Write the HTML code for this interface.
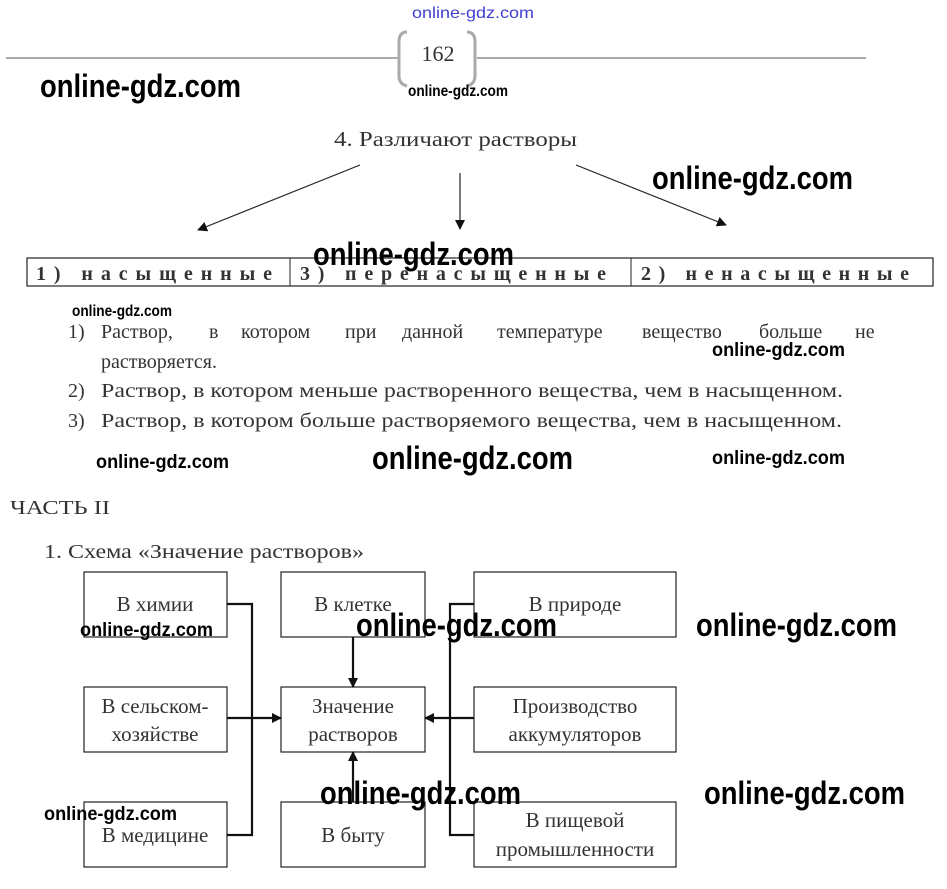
<!DOCTYPE html>
<html><head><meta charset="utf-8"><style>
html,body{margin:0;padding:0;background:#fff;}
svg{display:block}
.s{font-family:"Liberation Serif",serif;fill:#333;}
.w{font-family:"Liberation Sans",sans-serif;font-weight:bold;fill:#000;}
</style></head><body>
<svg width="947" height="889" viewBox="0 0 947 889" xmlns="http://www.w3.org/2000/svg">
<defs><marker id="a" markerWidth="10" markerHeight="10" refX="9" refY="5" orient="auto" markerUnits="userSpaceOnUse"><path d="M0,0 L10,5 L0,10 z" fill="#111"/></marker></defs>
<text x="412" y="18" font-family="Liberation Sans,sans-serif" font-size="16" fill="#4040d0" textLength="122" lengthAdjust="spacingAndGlyphs">online-gdz.com</text>
<line x1="6" y1="58" x2="400" y2="58" stroke="#aaa" stroke-width="2"/>
<line x1="477" y1="58" x2="866" y2="58" stroke="#aaa" stroke-width="2"/>
<path d="M407,32 Q399,32 399,42 L399,76 Q399,84 407,86" fill="none" stroke="#aaa" stroke-width="3"/>
<path d="M467,32 Q475,32 475,42 L475,76 Q475,84 467,86" fill="none" stroke="#aaa" stroke-width="3"/>
<text x="438" y="61" text-anchor="middle" class="s" font-size="22">162</text>
<text x="408" y="96" class="w" font-size="16" font-weight="normal" textLength="100" lengthAdjust="spacingAndGlyphs">online-gdz.com</text>
<text x="40" y="97" class="w" font-size="32" textLength="201" lengthAdjust="spacingAndGlyphs">online-gdz.com</text>
<text x="334" y="146" class="s" font-size="21" textLength="243" lengthAdjust="spacingAndGlyphs">4.  Различают растворы</text>
<line x1="360" y1="165" x2="198" y2="230" stroke="#222" stroke-width="1.2" marker-end="url(#a)"/>
<line x1="460" y1="173" x2="460" y2="229" stroke="#222" stroke-width="1.2" marker-end="url(#a)"/>
<line x1="576" y1="165" x2="726" y2="225" stroke="#222" stroke-width="1.2" marker-end="url(#a)"/>
<text x="652" y="189" class="w" font-size="32" textLength="201" lengthAdjust="spacingAndGlyphs">online-gdz.com</text>
<rect x="27" y="258" width="906" height="28" fill="none" stroke="#222" stroke-width="1.2"/>
<line x1="290" y1="258" x2="290" y2="286" stroke="#222"/>
<line x1="631" y1="258" x2="631" y2="286" stroke="#222"/>
<text x="36" y="280" class="s" font-size="20" font-weight="bold" textLength="236" lengthAdjust="spacing">1) насыщенные</text>
<text x="300" y="280" class="s" font-size="20" font-weight="bold" textLength="306" lengthAdjust="spacing">3) перенасыщенные</text>
<text x="641" y="280" class="s" font-size="20" font-weight="bold" textLength="268" lengthAdjust="spacing">2) ненасыщенные</text>
<text x="313" y="265" class="w" font-size="32" textLength="201" lengthAdjust="spacingAndGlyphs">online-gdz.com</text>
<text x="72" y="316" class="w" font-size="16" font-weight="normal" textLength="100" lengthAdjust="spacingAndGlyphs">online-gdz.com</text>
<g class="s" font-size="20">
<text x="68" y="338">1)</text><text x="101" y="338">Раствор,</text><text x="209" y="338">в</text><text x="241" y="338">котором</text><text x="345" y="338">при</text><text x="402" y="338">данной</text><text x="497" y="338">температуре</text><text x="642" y="338">вещество</text><text x="759" y="338">больше</text><text x="855" y="338">не</text>
<text x="101" y="368">растворяется.</text>
<text x="68" y="397">2)</text><text x="101" y="397" textLength="742" lengthAdjust="spacingAndGlyphs">Раствор, в котором меньше растворенного вещества, чем в насыщенном.</text>
<text x="68" y="427">3)</text><text x="101" y="427" textLength="741" lengthAdjust="spacingAndGlyphs">Раствор, в котором больше растворяемого вещества, чем в насыщенном.</text>
</g>
<text x="712" y="356" class="w" font-size="19" textLength="133" lengthAdjust="spacingAndGlyphs">online-gdz.com</text>
<text x="96" y="468" class="w" font-size="19" textLength="133" lengthAdjust="spacingAndGlyphs">online-gdz.com</text>
<text x="372" y="469" class="w" font-size="32" textLength="201" lengthAdjust="spacingAndGlyphs">online-gdz.com</text>
<text x="712" y="464" class="w" font-size="19" textLength="133" lengthAdjust="spacingAndGlyphs">online-gdz.com</text>
<text x="10" y="514" class="s" font-size="20" textLength="100" lengthAdjust="spacingAndGlyphs">ЧАСТЬ II</text>
<text x="44" y="558" class="s" font-size="20" textLength="320" lengthAdjust="spacingAndGlyphs">1. Схема «Значение растворов»</text>
<g fill="none" stroke="#222" stroke-width="1.2">
<rect x="84" y="572" width="143" height="65"/><rect x="84" y="687" width="143" height="65"/><rect x="84" y="802" width="143" height="65"/>
<rect x="281" y="572" width="144" height="65"/><rect x="281" y="687" width="144" height="65"/><rect x="281" y="802" width="144" height="65"/>
<rect x="474" y="572" width="202" height="65"/><rect x="474" y="687" width="202" height="65"/><rect x="474" y="802" width="202" height="65"/>
</g>
<g fill="none" stroke="#111" stroke-width="2.2">
<polyline points="227,604 252,604 252,835 227,835"/>
<line x1="227" y1="718" x2="281" y2="718" marker-end="url(#a)"/>
<polyline points="474,604 450,604 450,835 474,835"/>
<line x1="474" y1="718" x2="425" y2="718" marker-end="url(#a)"/>
<line x1="353" y1="637" x2="353" y2="687" marker-end="url(#a)"/>
<line x1="353" y1="802" x2="353" y2="752" marker-end="url(#a)"/>
</g>
<g class="s" font-size="21" text-anchor="middle">
<text x="155" y="611">В химии</text>
<text x="155" y="713">В сельском-</text><text x="155" y="741">хозяйстве</text>
<text x="155" y="842">В медицине</text>
<text x="353" y="611">В клетке</text>
<text x="353" y="713">Значение</text><text x="353" y="741">растворов</text>
<text x="353" y="842">В быту</text>
<text x="575" y="611">В природе</text>
<text x="575" y="713">Производство</text><text x="575" y="741">аккумуляторов</text>
<text x="575" y="827">В пищевой</text><text x="575" y="856">промышленности</text>
</g>
<text x="80" y="636" class="w" font-size="19" textLength="133" lengthAdjust="spacingAndGlyphs">online-gdz.com</text>
<text x="356" y="636" class="w" font-size="32" textLength="201" lengthAdjust="spacingAndGlyphs">online-gdz.com</text>
<text x="696" y="636" class="w" font-size="32" textLength="201" lengthAdjust="spacingAndGlyphs">online-gdz.com</text>
<text x="44" y="820" class="w" font-size="19" textLength="133" lengthAdjust="spacingAndGlyphs">online-gdz.com</text>
<text x="320" y="804" class="w" font-size="32" textLength="201" lengthAdjust="spacingAndGlyphs">online-gdz.com</text>
<text x="704" y="804" class="w" font-size="32" textLength="201" lengthAdjust="spacingAndGlyphs">online-gdz.com</text>
</svg>
</body></html>
